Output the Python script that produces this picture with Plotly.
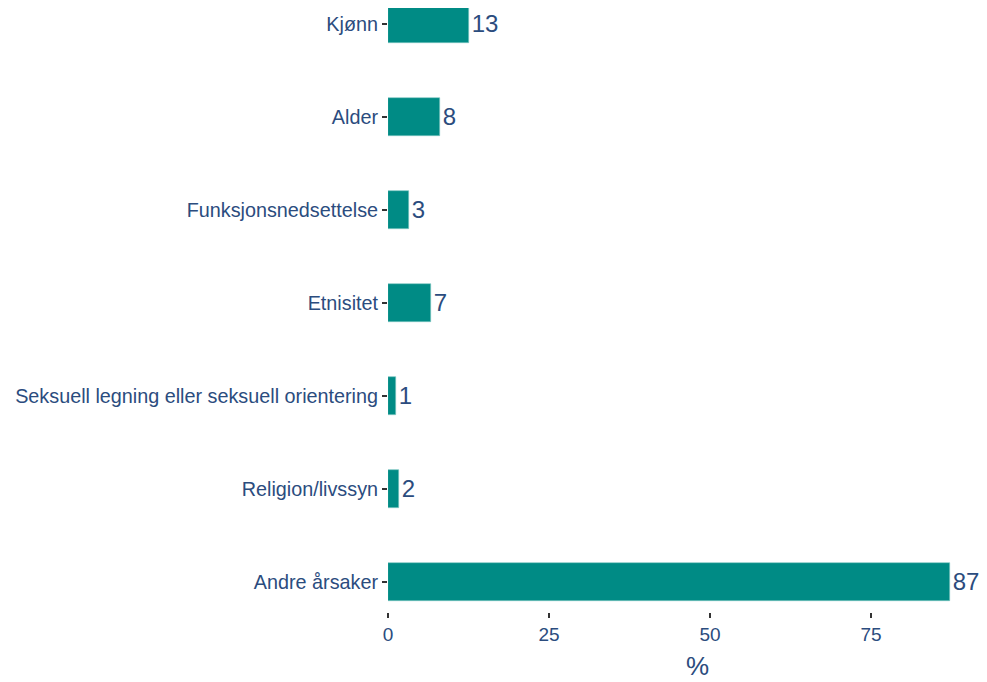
import plotly.graph_objects as go

categories = ["Andre årsaker", "Religion/livssyn",
              "Seksuell legning eller seksuell orientering", "Etnisitet",
              "Funksjonsnedsettelse", "Alder", "Kjønn"]
values = [87.3, 1.7, 1.2, 6.7, 3.3, 8.1, 12.6]
labels = [f"{round(v)}" for v in values]
x_ticks = [0, 25, 50, 75]

text_color = "#2B4C7E"
bar_color = "#008B85"

fig = go.Figure(go.Bar(
    y=categories, x=values, orientation="h",
    marker=dict(color=bar_color, line=dict(color="#7FC7C2", width=0.6)),
    width=0.41,
    text=labels, textposition="outside", cliponaxis=False,
    textfont=dict(size=24, color=text_color, family="Liberation Sans, Arial"),
))

fig.update_layout(
    width=979, height=674,
    margin=dict(l=380, r=0, t=0, b=70),
    paper_bgcolor="white", plot_bgcolor="white",
    font=dict(family="Liberation Sans, Arial", color=text_color),
    showlegend=False,
    bargap=0,
    annotations=[dict(text="%", xref="paper", yref="paper", x=0.516, y=0,
                      xanchor="center", yanchor="middle", yshift=-54,
                      showarrow=False,
                      font=dict(size=26, color=text_color))],
)
fig.update_xaxes(
    range=[0, 93], tickvals=x_ticks, showgrid=False, zeroline=False,
    ticks="outside", ticklen=5, tickwidth=1.5, tickcolor="#333333",
    tickfont=dict(size=19, color=text_color),
)
fig.update_yaxes(
    range=[-0.32, 6.17], showgrid=False, zeroline=False,
    ticks="outside", ticklen=5, tickwidth=1.5, tickcolor="#333333",
    tickfont=dict(size=19.8, color=text_color),
)

fig.write_html("out.html")
